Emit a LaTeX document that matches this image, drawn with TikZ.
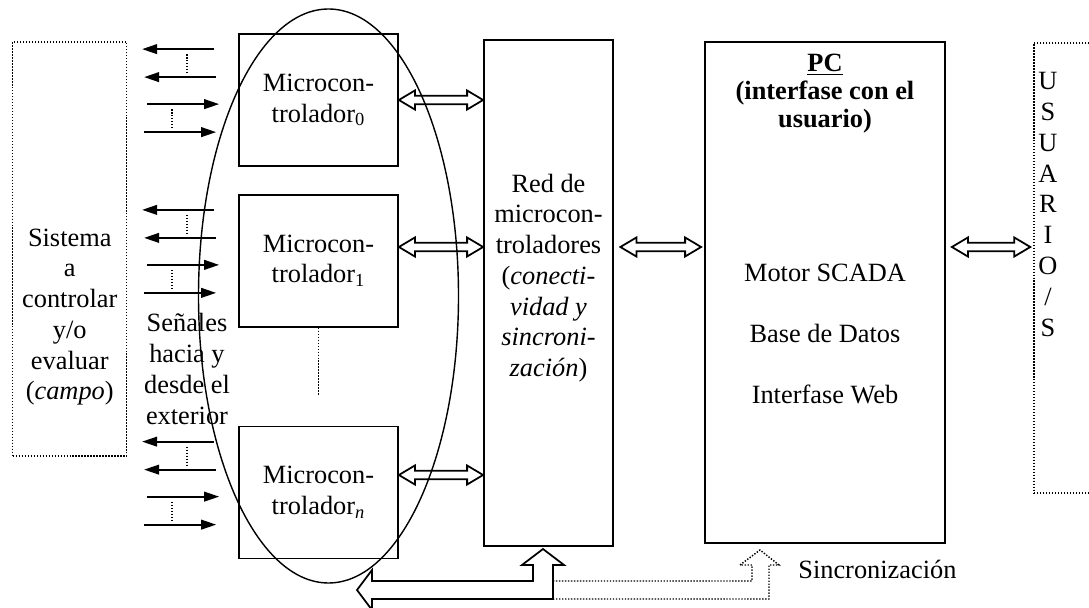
\documentclass[tikz,border=0pt]{standalone}
\usepackage{fontspec}
\setmainfont{Liberation Serif}
\usetikzlibrary{arrows.meta,positioning,calc,shapes.geometric}

\begin{document}
\begin{tikzpicture}[>={Triangle[length=8.5pt,width=5.5pt]},
  every node/.style={font=\fontsize{15}{17.5}\selectfont},
  caja/.style={draw,line width=1pt,inner sep=0pt},
  micro/.style={caja,minimum width=3.18cm,minimum height=2.64cm,align=center},
  punteado/.style={dash pattern=on 0.8pt off 0.9pt,line width=0.8pt},
  texto/.style={align=center,inner sep=0pt},
  senal/.style={line width=1pt},
  flechadoble/.style={line width=1pt,line join=miter,to path={
    let \p1=(\tikztostart), \p2=(\tikztotarget) in
    ({\x1},{\y1}) -- ({\x1+0.32cm},{\y1+0.19cm}) -- ({\x1+0.32cm},{\y1+0.085cm})
    -- ({\x2-0.32cm},{\y1+0.085cm}) -- ({\x2-0.32cm},{\y1+0.19cm}) -- ({\x2},{\y1})
    -- ({\x2-0.32cm},{\y1-0.19cm}) -- ({\x2-0.32cm},{\y1-0.085cm})
    -- ({\x1+0.32cm},{\y1-0.085cm}) -- ({\x1+0.32cm},{\y1-0.19cm}) -- cycle}}]
\useasboundingbox (0,0) rectangle (21.78,-12.16);
\clip (0,0) rectangle (21.78,-12.16);

% campo
\node[caja,punteado,minimum width=2.28cm,minimum height=8.28cm] (campo) at (1.395,-4.98) {};
\node[texto] (campotxt) at (1.395,-6.34) {Sistema\\a\\controlar\\y/o\\evaluar\\(\textit{campo})};

% microcontroladores
\node[micro] (mc0) at (6.37,-2.0) {Microcon-\\trolador\textsubscript{0}};
\node[micro,below=0.54cm of mc0] (mc1) {Microcon-\\trolador\textsubscript{1}};
\node[micro,below=1.96cm of mc1] (mcn) {Microcon-\\trolador\textsubscript{\textit{n}}};
\draw[punteado] (mc1.south) -- ([yshift=0.6cm]mcn.north);
\node[texto] (senales) at (3.74,-7.38) {Señales\\hacia y\\desde el\\exterior};
\node[draw,ellipse,line width=0.8pt,minimum width=5.2cm,minimum height=11.48cm,inner sep=0pt] (grupo) at (6.57,-5.92) {};

\foreach \m in {mc0,mc1,mcn}{
  \draw[senal,->] ([shift={(-0.48,-0.32)}]\m.north west) -- ++(-1.44,0);
  \draw[senal,->] ([shift={(-0.44,-0.88)}]\m.north west) -- ++(-1.44,0);
  \draw[senal,->] ([shift={(-1.82,-1.42)}]\m.north west) -- ++(1.44,0);
  \draw[senal,->] ([shift={(-1.88,-1.98)}]\m.north west) -- ++(1.44,0);
  \draw[punteado] ([shift={(-1.02,-0.42)}]\m.north west) -- ++(0,-0.36);
  \draw[punteado] ([shift={(-1.32,-1.52)}]\m.north west) -- ++(0,-0.36);
}

% red, PC y usuarios
\node[caja,minimum width=2.58cm,minimum height=10.12cm] (red) at (10.97,-5.86) {};
\node[texto] (redtxt) at (10.97,-5.56) {Red de\\microcon-\\troladores\\(\textit{conecti-}\\\textit{vidad y}\\\textit{sincroni-}\\\textit{zación})};
\node[caja,minimum width=4.8cm,minimum height=10.02cm] (pc) at (16.5,-5.85) {};
\node[texto,font=\bfseries\fontsize{15}{15.9}\selectfont] (pctit) at (16.5,-1.87) {\underline{PC}\\(interfase con el\\usuario)};
\node[texto] (pclista) at (16.5,-6.675) {Motor SCADA\\[0.6cm]Base de Datos\\[0.6cm]Interfase Web};
\node[caja,punteado,minimum width=1.4cm,minimum height=9.0cm] (usuario) at (21.38,-5.36) {};
\node[texto] (usrtxt) at (20.96,-4.09) {U\\S\\U\\A\\R\\I\\O\\/\\S};

\coordinate (fila1) at (0,-4.94);
\coordinate (filan) at (0,-9.5);
\draw[flechadoble] (mc0.east) to (red.west);
\draw[flechadoble] (mc1.east |- fila1) to (red.west);
\draw[flechadoble] (mcn.east |- filan) to (red.west);
\draw[flechadoble] ($(red.east |- fila1)+(0.13,0)$) to ($(pc.west |- fila1)+(-0.06,0)$);
\draw[flechadoble] ($(pc.east |- fila1)+(0.12,0)$) to ($(usuario.west |- fila1)+(-0.06,0)$);

% sincronizacion
\draw[line width=1pt,line join=miter] (7.14,-11.80) -- (7.44,-11.40) -- (7.44,-11.62) -- (10.66,-11.62)
  -- (10.66,-11.30) -- (10.44,-11.30) -- (10.86,-10.98) -- (11.28,-11.30) -- (11.06,-11.30)
  -- (11.06,-11.98) -- (7.44,-11.98) -- (7.44,-12.20) -- cycle;
\draw[punteado] (11.06,-11.62) -- (15.04,-11.62) -- (15.04,-11.30) -- (14.80,-11.30) -- (15.20,-11.00)
  -- (15.58,-11.30) -- (15.38,-11.30) -- (15.38,-11.98) -- (11.06,-11.98);
\node[texto,anchor=base west] (sinc) at (15.96,-11.58) {Sincronización};
\end{tikzpicture}
\end{document}
